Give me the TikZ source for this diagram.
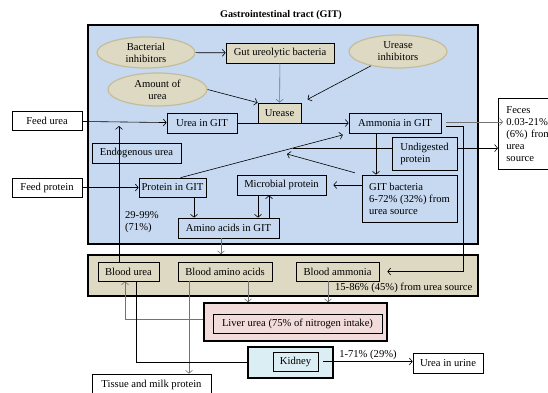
\documentclass[tikz,border=0pt]{standalone}
\usepackage{fontspec}
\setmainfont{Liberation Serif}
\usetikzlibrary{arrows.meta, shapes.geometric}
\definecolor{gitblue}{HTML}{C6D9F1}
\definecolor{sand}{HTML}{DDD9C3}
\definecolor{sandline}{HTML}{C4BD97}
\definecolor{liverpink}{HTML}{F2DCDB}
\definecolor{kidneyblue}{HTML}{DBEEF3}

\begin{document}
\begin{tikzpicture}[x=1pt, y=-1pt, line width=0.6pt,
   font=\fontsize{10.6}{12}\selectfont,
   >={Straight Barb[length=3pt,width=7pt]},
   box/.style = {draw, fill=gitblue, line width=0.7pt, minimum height=19pt, inner sep=2pt},
   sandbox/.style = {box, fill=sand},
   plain/.style = {box, fill=white},
   organ/.style = {draw, line width=1.6pt},
   blob/.style = {ellipse, draw=sandline, fill=sand, line width=1.2pt, align=center, inner sep=0pt},
   faint/.style = {draw=black!55}]
   \useasboundingbox (0,0) rectangle (548,392);

   \node[font=\fontsize{10.2}{12}\selectfont\bfseries] (title) at (281,15) {Gastrointestinal tract (GIT)};
   \node[organ, fill=gitblue, minimum width=390pt, minimum height=219pt] (git) at (283,134.5) {};
   \node[organ, fill=sand, minimum width=390pt, minimum height=41pt] (blood) at (283,275.5) {};
   \node[organ, fill=liverpink, minimum width=183pt, minimum height=38pt] (liverbox) at (295.5,322) {};
   \node[organ, fill=kidneyblue, minimum width=85pt, minimum height=31pt] (kidbox) at (290.5,362.5) {};

   \node[plain, minimum width=70pt] (feedu) at (47,121) {Feed urea};
   \node[plain, minimum width=70pt] (feedp) at (47,187.5) {Feed protein};
   \node[blob, minimum width=98pt, minimum height=31pt] (bactinh) at (146,52.5) {Bacterial\\inhibitors};
   \node[blob, minimum width=99pt, minimum height=33pt] (amount) at (157.5,89.5) {Amount of\\urea};
   \node[blob, minimum width=98pt, minimum height=33pt] (ureinh) at (398,51.5) {Urease\\inhibitors};
   \node[sandbox, minimum width=108pt, minimum height=20pt] (gut) at (280,53) {Gut ureolytic bacteria};
   \node[sandbox, minimum width=43pt, minimum height=20pt] (urease) at (279.5,113) {Urease};
   \node[box, minimum width=70pt, minimum height=20pt] (ureagit) at (202,123) {Urea in GIT};
   \node[box, minimum width=92pt, minimum height=20pt] (amm) at (395,123) {Ammonia in GIT};
   \node[box, minimum width=65pt, minimum height=33pt, align=left] (undig) at (424.5,153.5) {Undigested\\protein};
   \node[box, minimum width=95pt, minimum height=47pt, align=left] (gitb) at (409.5,198.5) {GIT bacteria\\6-72\% (32\%) from\\urea source};
   \node[box, minimum width=89pt, minimum height=20pt] (endo) at (136.5,153) {Endogenous urea};
   \node[box, minimum width=67pt] (protg) at (172.5,187.5) {Protein in GIT};
   \node[box, minimum width=89pt, minimum height=20pt] (micro) at (281.5,185) {Microbial protein};
   \node[box, minimum width=101pt, minimum height=20pt] (amino) at (228.5,228) {Amino acids in GIT};
   \node[sandbox, minimum width=61pt] (bu) at (128.5,271.5) {Blood urea};
   \node[sandbox, minimum width=94pt] (bam) at (225,271.5) {Blood amino acids};
   \node[sandbox, minimum width=83pt] (bamm) at (337.5,271.5) {Blood ammonia};
   \node[box, fill=liverpink, minimum width=169pt] (liver) at (297.5,323.5) {Liver urea (75\% of nitrogen intake)};
   \node[box, fill=kidneyblue, minimum width=45pt] (kid) at (295.5,361.5) {Kidney};
   \node[plain, minimum width=70pt, minimum height=20pt] (urine) at (448,363) {Urea in urine};
   \node[plain, minimum width=119pt, minimum height=22pt] (tissue) at (151.5,385) {Tissue and milk protein};
   \node[plain, anchor=north west, text width=48pt, inner xsep=8pt, inner ysep=3pt,
         minimum height=71pt, align=left] (feces) at (498,98) {Feces\\0.03-21\%\\(6\%) from\\urea\\source};
   \node[anchor=west, align=left] (pctendo) at (121.5,222) {29-99\%\\(71\%)};
   \node[anchor=west] (pctamm) at (331.5,288) {15-86\% (45\%) from urea source};

   \draw[->] (bactinh) -- (gut);
   \draw[->, faint] (gut) -- (urease);
   \draw[->] (amount.east) -- (urease.north west);
   \draw[->, shorten >=7pt] (ureinh) -- (urease.north east);
   \draw[->] (feedu) -- (ureagit);
   \draw[->] (ureagit) -- (amm);
   \coordinate (endotop) at (119,126);
   \draw[->] (endotop |- bu.north) -- (endotop);
   \draw[->] (feedp) -- (protg);
   \draw[->, shorten >=6pt] ([xshift=8pt]protg.north) -- coordinate[pos=0.667] (junc) (amm.south west);
   \draw (junc) -- (junc -| undig.west);
   \draw[->] (junc -| undig.east) -- (junc -| feces.west);
   \coordinate (bactend) at (287,154);
   \draw[->, shorten <=7pt] (gitb.north west) -- (bactend);
   \draw[->] ([xshift=-19pt]amm.south) -- ([xshift=-19pt]amm.south |- gitb.north);
   \draw[->] (micro.east -| gitb.west) -- ([xshift=7pt]micro.east);
   \draw[->] ([xshift=21.5pt]protg.south) -- ([xshift=21.5pt]protg.south |- amino.north);
   \draw[->] ([xshift=-23.5pt]micro.south) -- ([xshift=-23.5pt]micro.south |- amino.north);
   \draw[->] ([xshift=-12.5pt]micro.south |- amino.north) -- ([xshift=-12.5pt]micro.south);
   \draw[->, faint] ([shift={(5pt,1pt)}]amm.east) -- ([shift={(5pt,1pt)}]amm.east -| feces.west);
   \coordinate (ammdrop) at (463,126);
   \draw[->, shorten >=8pt] ([shift={(5pt,-3pt)}]amm.east) -- (ammdrop) |- (bamm.east);
   \draw[->, faint] ([xshift=-7.5pt]amino.south) -- ([xshift=-7.5pt]amino.south |- blood.north);
   \draw[->, faint] ([xshift=23pt]bam.south) -- ([xshift=23pt]bam.south |- liverbox.north);
   \draw[->, faint] ([xshift=-36pt]bam.south) -- ([xshift=-36pt]bam.south |- tissue.north);
   \draw[->, faint] ([xshift=-9.5pt]bamm.south) -- ([xshift=-9.5pt]bamm.south |- liverbox.north);
   \draw[->, faint] ([yshift=3pt]liverbox.west) -| ([xshift=-3.5pt]bu.south);
   \draw ([xshift=7.5pt]bu.south) |- (kidbox.west);
   \draw[->] ([xshift=5pt]kid.east) -- (kid.east -| urine.west) node[midway, above, inner sep=1.5pt] {1-71\% (29\%)};
\end{tikzpicture}
\end{document}
